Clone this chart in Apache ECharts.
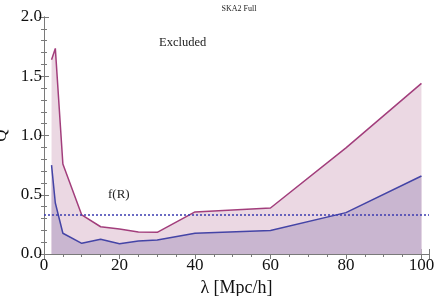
<!DOCTYPE html>
<html><head><meta charset="utf-8">
<script src="https://cdn.jsdelivr.net/npm/echarts@6/dist/echarts.min.js"></script>
<style>html,body{margin:0;padding:0;background:#fff}#c{width:436px;height:296px}</style>
</head><body><div id="c"></div>
<script>
var upperX = [2, 3, 5, 10, 15, 20, 25, 30, 40, 60, 80, 100];
var upperQ = [1.64, 1.735, 0.76, 0.33, 0.23, 0.21, 0.185, 0.183, 0.355, 0.388, 0.895, 1.44];
var lowerX = [2, 3, 5, 10, 15, 20, 25, 30, 40, 60, 80, 100];
var lowerQ = [0.75, 0.43, 0.175, 0.09, 0.124, 0.087, 0.11, 0.118, 0.175, 0.198, 0.349, 0.658];
var fRLevel = 0.33;
var xTicks = [0, 20, 40, 60, 80, 100];
var yTicks = [0.0, 0.5, 1.0, 1.5, 2.0];

function pairs(xs, ys){ return xs.map(function(x,i){return [x, ys[i]];}); }
var serif = '"Liberation Serif","DejaVu Serif",serif';
var frameColor = '#7a7a7a';

var chart = echarts.init(document.getElementById('c'), null, {renderer:'canvas'});
var axisCommonX = {
  type:'value', min:0, max:102, interval:20,
  axisLine:{show:true, lineStyle:{color:frameColor, width:1}},
  axisTick:{show:true, inside:true, length:5, lineStyle:{color:frameColor}},
  minorTick:{show:true, splitNumber:4, length:3, lineStyle:{color:frameColor}},
  splitLine:{show:false}
};
var axisCommonY = {
  type:'value', min:0, max:2, interval:0.5,
  axisLine:{show:true, lineStyle:{color:frameColor, width:1}},
  axisTick:{show:true, inside:true, length:5, lineStyle:{color:frameColor}},
  minorTick:{show:true, splitNumber:5, length:3, lineStyle:{color:frameColor}},
  splitLine:{show:false}
};
chart.setOption({
  animation:false,
  backgroundColor:'#fff',
  grid:{left:44, top:17, right:7, bottom:42, containLabel:false, outerBoundsMode:'none'},
  title:{text:'SKA2 Full', left:234, top:0, textAlign:'center',
    textStyle:{fontFamily:serif, fontSize:8, fontWeight:'normal', color:'#222'}},
  xAxis:[
    Object.assign({}, axisCommonX, {
      position:'bottom', name:'λ [Mpc/h]', nameLocation:'middle', nameGap:22,
      nameTextStyle:{fontFamily:serif, fontSize:18, color:'#111', verticalAlign:'top'},
      axisLabel:{show:true, showMaxLabel:false, margin:3, fontFamily:serif, fontSize:17, color:'#111',
        formatter:function(v){ return xTicks.indexOf(v)>=0 ? String(v) : ''; }}
    }),
    Object.assign({}, axisCommonX, {position:'top', axisLabel:{show:false}})
  ],
  yAxis:[
    Object.assign({}, axisCommonY, {
      position:'left', name:'Q', nameLocation:'middle', nameGap:34, nameRotate:90,
      nameMoveOverlap:false,
      nameTextStyle:{fontFamily:serif, fontSize:17, color:'#111'},
      axisLabel:{show:true, margin:2, fontFamily:serif, fontSize:17, color:'#111',
        formatter:function(v){ return yTicks.indexOf(v)>=0 ? v.toFixed(1) : ''; }}
    }),
    Object.assign({}, axisCommonY, {position:'right', axisLabel:{show:false}})
  ],
  graphic:[
    {type:'text', left:159, top:36, style:{text:'Excluded', font:'12.5px '+serif, fill:'#222'}},
    {type:'text', left:108, top:188, style:{text:'f(R)', font:'13px '+serif, fill:'#222'}}
  ],
  series:[
    {type:'line', data:pairs(upperX, upperQ), symbol:'none', z:2,
     lineStyle:{color:'#a23e7c', width:1.5},
     areaStyle:{color:'#ebd8e3', opacity:1}},
    {type:'line', data:pairs(lowerX, lowerQ), symbol:'none', z:3,
     lineStyle:{color:'#4444a6', width:1.5},
     areaStyle:{color:'#c9b6d0', opacity:1},
     markLine:{silent:true, symbol:'none', label:{show:false},
       lineStyle:{color:'#3b3bb0', type:[2,2], width:1.5},
       data:[{yAxis:fRLevel}]}}
  ]
});
</script></body></html>
